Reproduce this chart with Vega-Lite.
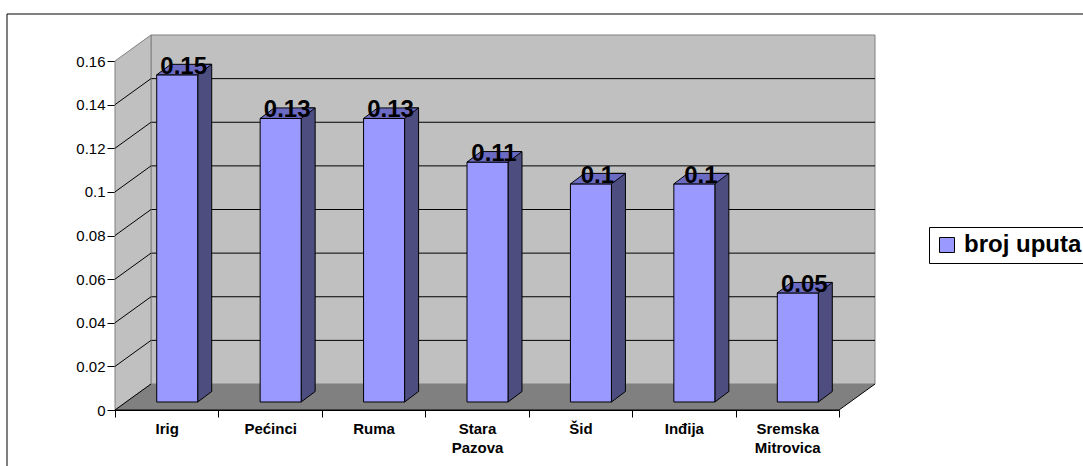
{
  "$schema": "https://vega.github.io/schema/vega-lite/v6.json",
  "width": 724,
  "height": 349,
  "autosize": {"type": "none"},
  "padding": {"left": 115, "top": 61, "right": 244, "bottom": 56},
  "background": "white",
  "config": {
    "view": {"stroke": null},
    "font": "Liberation Sans",
    "axis": {"labelColor": "black", "labelFont": "Liberation Sans", "domainColor": "black", "tickColor": "black", "grid": false, "title": null}
  },
  "datasets": {
    "bars": [
      {"cat": "Irig", "value": 0.15},
      {"cat": "Pećinci", "value": 0.13},
      {"cat": "Ruma", "value": 0.13},
      {"cat": "Stara Pazova", "value": 0.11},
      {"cat": "Šid", "value": 0.1},
      {"cat": "Inđija", "value": 0.1},
      {"cat": "Sremska Mitrovica", "value": 0.05}
    ],
    "grid": [{"v": 0.02}, {"v": 0.04}, {"v": 0.06}, {"v": 0.08}, {"v": 0.1}, {"v": 0.12}, {"v": 0.14}],
    "one": [{"k": 1}]
  },
  "layer": [
    {
      "data": {"name": "one"},
      "mark": {"type": "point", "shape": "M-108,-47 L1000,-47 L1000,500 L-108,500 Z", "size": 4, "filled": false, "stroke": "black", "strokeWidth": 1, "opacity": 1},
      "encoding": {
        "x": {"datum": "Irig", "bandPosition": 0, "scale": {"type": "band", "domain": ["Irig", "Pećinci", "Ruma", "Stara Pazova", "Šid", "Inđija", "Sremska Mitrovica"], "paddingInner": 0, "paddingOuter": 0}, "axis": {"title": null, "tickBand": "extent", "tickSize": 7, "labelFontSize": 15, "labelFontWeight": "bold", "labelPadding": 4, "labelLineHeight": 19, "labelAngle": 0, "labelBaseline": "top", "labelExpr": "split(datum.label, ' ')"}},
        "y": {"datum": 0.16, "type": "quantitative", "scale": {"domain": [0, 0.16], "nice": false, "zero": true}, "axis": {"title": null, "values": [0, 0.02, 0.04, 0.06, 0.08, 0.1, 0.12, 0.14, 0.16], "format": "~g", "tickSize": 8, "labelFontSize": 15, "labelPadding": 2}}
      }
    },
    {
      "data": {"name": "one"},
      "mark": {"type": "point", "shape": "M36,-26 L760,-26 L760,-375 L36,-375 Z", "size": 4, "filled": true, "fill": "#c0c0c0", "stroke": "#808080", "strokeWidth": 1, "opacity": 1},
      "encoding": {
        "x": {"datum": "Irig", "bandPosition": 0},
        "y": {"datum": 0, "type": "quantitative"}
      }
    },
    {
      "data": {"name": "grid"},
      "mark": {"type": "rule", "color": "black", "strokeWidth": 1, "xOffset": 36, "x2Offset": 36, "yOffset": -26},
      "encoding": {
        "y": {"field": "v", "type": "quantitative"}
      }
    },
    {
      "data": {"name": "one"},
      "mark": {"type": "point", "shape": "M0,0 L36,-26 L36,-375 L0,-349 Z", "size": 4, "filled": true, "fill": "#c0c0c0", "stroke": "#808080", "strokeWidth": 1, "opacity": 1},
      "encoding": {
        "x": {"datum": "Irig", "bandPosition": 0},
        "y": {"datum": 0, "type": "quantitative"}
      }
    },
    {
      "data": {"name": "grid"},
      "mark": {"type": "point", "shape": "M0,0 L36,-26", "size": 4, "filled": false, "stroke": "black", "strokeWidth": 1, "opacity": 1},
      "encoding": {
        "x": {"datum": "Irig", "bandPosition": 0},
        "y": {"field": "v", "type": "quantitative"}
      }
    },
    {
      "data": {"name": "one"},
      "mark": {"type": "point", "shape": "M36,-26 L0,0 L724,0 L760,-26", "size": 4, "filled": true, "fill": "#808080", "stroke": "black", "strokeWidth": 1, "opacity": 1},
      "encoding": {
        "x": {"datum": "Irig", "bandPosition": 0},
        "y": {"datum": 0, "type": "quantitative"}
      }
    },
    {
      "data": {"name": "bars"},
      "mark": {"type": "bar", "width": 14, "xOffset": 38, "yOffset": -18.5, "y2Offset": -8, "fill": "#4d4d80", "stroke": "black", "strokeWidth": 1},
      "encoding": {
        "x": {"field": "cat", "type": "nominal"},
        "y": {"field": "value", "type": "quantitative"},
        "y2": {"datum": 0}
      }
    },
    {
      "data": {"name": "bars"},
      "mark": {"type": "point", "shape": "M31,-8 L45,-18.5 L46.5,-18.5 L46.5,-6.5 L31,-6.5 Z", "size": 4, "filled": true, "fill": "#808080", "strokeWidth": 0, "opacity": 1},
      "encoding": {
        "x": {"field": "cat", "type": "nominal"},
        "y": {"datum": 0, "type": "quantitative"}
      }
    },
    {
      "data": {"name": "bars"},
      "mark": {"type": "point", "shape": "M31,-8 L45,-18.5", "size": 4, "filled": false, "stroke": "black", "strokeWidth": 1, "opacity": 1},
      "encoding": {
        "x": {"field": "cat", "type": "nominal"},
        "y": {"datum": 0, "type": "quantitative"}
      }
    },
    {
      "data": {"name": "bars"},
      "mark": {"type": "bar", "width": 41, "xOffset": 10.5, "yOffset": -8, "y2Offset": -8, "stroke": "black", "strokeWidth": 1, "opacity": 1},
      "encoding": {
        "x": {"field": "cat", "type": "nominal"},
        "y": {"field": "value", "type": "quantitative"},
        "y2": {"datum": 0},
        "color": {"datum": "broj uputa", "scale": {"range": ["#9999ff"]}, "legend": {"orient": "none", "legendX": 814, "legendY": 166, "title": null, "symbolType": "square", "symbolSize": 225, "symbolStrokeColor": "black", "symbolStrokeWidth": 1, "labelFontSize": 24, "labelFontWeight": "bold", "labelFont": "Liberation Sans", "labelColor": "black", "strokeColor": "black", "fillColor": "white", "padding": 6, "labelOffset": 5, "cornerRadius": 0}}
      }
    },
    {
      "data": {"name": "bars"},
      "mark": {"type": "point", "shape": "M-10,-8 L31,-8 L45,-18.5 L4,-18.5 Z", "size": 4, "filled": true, "fill": "#6b6bc4", "stroke": "black", "strokeWidth": 1, "opacity": 1},
      "encoding": {
        "x": {"field": "cat", "type": "nominal"},
        "y": {"field": "value", "type": "quantitative"}
      }
    },
    {
      "data": {"name": "bars"},
      "mark": {"type": "text", "xOffset": 17, "yOffset": -9, "baseline": "alphabetic", "align": "center", "fontSize": 24, "fontWeight": "bold", "font": "Liberation Sans", "color": "black"},
      "encoding": {
        "x": {"field": "cat", "type": "nominal"},
        "y": {"field": "value", "type": "quantitative"},
        "text": {"field": "value", "type": "quantitative", "format": "~g"}
      }
    }
  ]
}
